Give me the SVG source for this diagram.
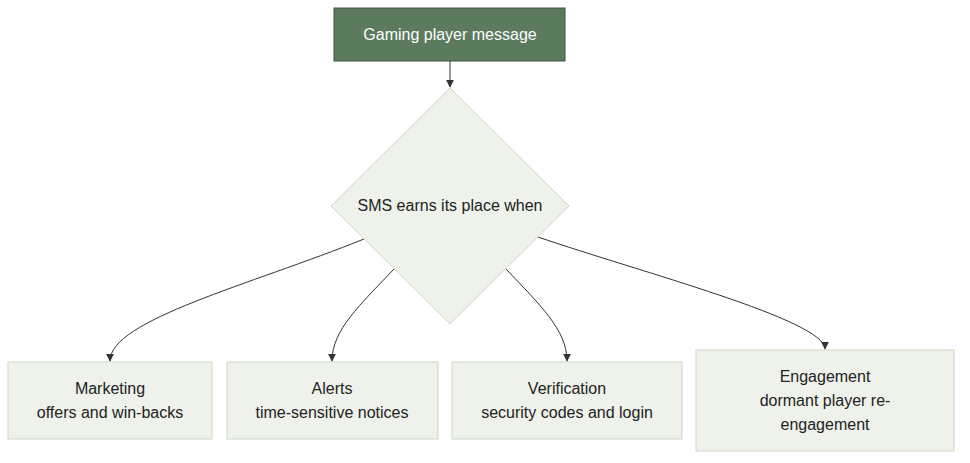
<svg xmlns="http://www.w3.org/2000/svg" width="970" height="463" viewBox="0 0 970 463">
<defs>
<style>
.box{fill:#eef2ea;stroke:#cdd6c6;stroke-width:1}
.t{font-family:"Liberation Sans",Arial,sans-serif;font-size:16px;fill:#222;text-anchor:middle}
.e{fill:none;stroke:#333;stroke-width:1;marker-end:url(#a)}
</style>
<marker id="a" viewBox="0 0 10 10" refX="9" refY="5" markerWidth="8" markerHeight="8" orient="auto"><path d="M0,0L10,5L0,10z" fill="#333"/></marker>
</defs>
<rect width="970" height="463" fill="#fff"/>
<g id="edges">
<path class="e" d="M450,61V87"/>
<path class="e" d="M364,239C250,285 110,320 110,361"/>
<path class="e" d="M394,269C360,305 332,330 332,361"/>
<path class="e" d="M506,269C540,305 567,330 567,361"/>
<path class="e" d="M538,237C640,272 825,320 825,349"/>
</g>
<g id="start"><rect x="334" y="8" width="231" height="53" fill="#5b7a5e" stroke="#3d5540"/><text class="t" x="450" y="40" fill="#fff" style="fill:#fff">Gaming player message</text></g>
<g id="decision"><polygon class="box" points="450,88 569,206 450,324 331,206"/><text class="t" x="450" y="211">SMS earns its place when</text></g>
<g id="marketing"><rect class="box" x="8" y="362" width="204" height="77"/><text class="t" x="110" y="394">Marketing</text><text class="t" x="110" y="418">offers and win-backs</text></g>
<g id="alerts"><rect class="box" x="227" y="362" width="211" height="77"/><text class="t" x="332" y="394">Alerts</text><text class="t" x="332" y="418">time-sensitive notices</text></g>
<g id="verification"><rect class="box" x="452" y="362" width="230" height="77"/><text class="t" x="567" y="394">Verification</text><text class="t" x="567" y="418">security codes and login</text></g>
<g id="engagement"><rect class="box" x="696" y="350" width="258" height="101"/><text class="t" x="825" y="382">Engagement</text><text class="t" x="825" y="406">dormant player re-</text><text class="t" x="825" y="430">engagement</text></g>
</svg>
